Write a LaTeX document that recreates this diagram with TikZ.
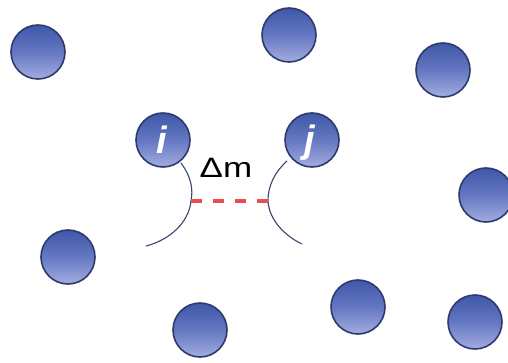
\documentclass[tikz,border=0pt]{standalone}
\usepackage{fontspec}
\setmainfont{Liberation Sans}
\begin{document}
\begin{tikzpicture}[x=1pt,y=-1pt,
  ball/.style={circle,minimum size=54pt,inner sep=0pt,draw=ballrim,line width=1.6pt,
    top color=balltop,bottom color=ballbot,middle color=ballmid},
  lbl/.style={text=white,inner sep=0pt,font=\fontsize{38}{38}\selectfont\bfseries\itshape},
  wall/.style={draw=wallcol,line width=1.1pt},
  gap/.style={draw=gapred,line width=3.2pt,dash pattern=on 11pt off 11pt}]
\definecolor{ballrim}{HTML}{2E3A6E}
\definecolor{balltop}{HTML}{3E58A8}
\definecolor{ballmid}{HTML}{6577C2}
\definecolor{ballbot}{HTML}{A3ADE0}
\definecolor{wallcol}{HTML}{3A4470}
\definecolor{gapred}{HTML}{E8504F}
\useasboundingbox (0,0) rectangle (508,363);
\node[ball] (b1) at (38,52) {};
\node[ball] (b2) at (289,35) {};
\node[ball] (b3) at (443,70) {};
\node[ball] (bi) at (163,140) {};
\node[ball] (bj) at (312,140) {};
\node[ball] (b6) at (486,195) {};
\node[ball] (b7) at (68,257) {};
\node[ball] (b8) at (358,307) {};
\node[ball] (b9) at (200,330) {};
\node[ball] (b10) at (475,322) {};
\node[lbl] at ([xshift=-1pt]bi) {i};
\node[lbl] at ([xshift=-2pt,yshift=-3pt]bj) {j};
\coordinate (li) at (191,201);
\coordinate (rj) at (268,201);
\draw[wall] (181,163) .. controls (192,178) and (193,190) .. (li)
  .. controls (189,222) and (170,240) .. (146,246);
\draw[wall] (287,161) .. controls (275,172) and (268,185) .. (rj)
  .. controls (269,220) and (285,236) .. (302,244);
\draw[gap] (li) -- (rj);
\node[font=\fontsize{28}{28}\selectfont,xscale=1.25,inner sep=0pt] (dm) at (226,168) {Δm};
\end{tikzpicture}
\end{document}
